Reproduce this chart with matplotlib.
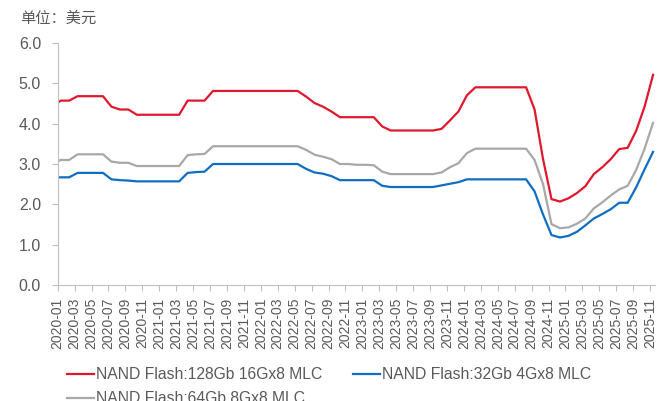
import pandas as pd
import matplotlib.pyplot as plt
import numpy as np

plt.rcParams['font.family'] = ['Liberation Sans', 'Noto Sans CJK SC', 'DejaVu Sans']

# monthly contract prices, 2019-12 .. 2025-11 (first point sits left of the axis)
months = list(pd.date_range('2019-12-01', periods=72, freq='MS').strftime('%Y-%m'))

nand_128 = [4.42,
            4.57, 4.57, 4.68, 4.68, 4.68, 4.68, 4.42, 4.35, 4.35, 4.22, 4.22, 4.22,
            4.22, 4.22, 4.22, 4.57, 4.57, 4.57, 4.81, 4.81, 4.81, 4.81, 4.81, 4.81,
            4.81, 4.81, 4.81, 4.81, 4.81, 4.67, 4.51, 4.42, 4.30, 4.16, 4.16, 4.16,
            4.16, 4.16, 3.93, 3.83, 3.83, 3.83, 3.83, 3.83, 3.83, 3.87, 4.08, 4.30,
            4.70, 4.90, 4.90, 4.90, 4.90, 4.90, 4.90, 4.90, 4.35, 3.12, 2.13, 2.07,
            2.15, 2.28, 2.45, 2.75, 2.92, 3.12, 3.37, 3.40, 3.82, 4.42, 5.21]
nand_32 = [2.67,
           2.67, 2.67, 2.78, 2.78, 2.78, 2.78, 2.62, 2.60, 2.59, 2.57, 2.57, 2.57,
           2.57, 2.57, 2.57, 2.78, 2.80, 2.81, 3.00, 3.00, 3.00, 3.00, 3.00, 3.00,
           3.00, 3.00, 3.00, 3.00, 3.00, 2.88, 2.79, 2.76, 2.70, 2.60, 2.60, 2.60,
           2.60, 2.60, 2.46, 2.43, 2.43, 2.43, 2.43, 2.43, 2.43, 2.47, 2.51, 2.55,
           2.62, 2.62, 2.62, 2.62, 2.62, 2.62, 2.62, 2.62, 2.32, 1.75, 1.24, 1.18,
           1.22, 1.32, 1.48, 1.65, 1.76, 1.88, 2.04, 2.04, 2.42, 2.87, 3.30]
nand_64 = [3.00,
           3.10, 3.10, 3.24, 3.24, 3.24, 3.24, 3.06, 3.03, 3.03, 2.95, 2.95, 2.95,
           2.95, 2.95, 2.95, 3.22, 3.24, 3.25, 3.44, 3.44, 3.44, 3.44, 3.44, 3.44,
           3.44, 3.44, 3.44, 3.44, 3.44, 3.35, 3.23, 3.18, 3.12, 3.00, 3.00, 2.98,
           2.98, 2.97, 2.81, 2.75, 2.75, 2.75, 2.75, 2.75, 2.75, 2.79, 2.92, 3.02,
           3.27, 3.38, 3.38, 3.38, 3.38, 3.38, 3.38, 3.38, 3.10, 2.50, 1.51, 1.41,
           1.43, 1.52, 1.65, 1.90, 2.05, 2.22, 2.37, 2.46, 2.85, 3.38, 4.02]

labels = ['NAND Flash:128Gb 16Gx8 MLC', 'NAND Flash:32Gb 4Gx8 MLC', 'NAND Flash:64Gb 8Gx8 MLC']
colors = ['#E0182D', '#0F6EC2', '#A8A8A8']

# prices are quoted mid-month, so points sit a bit right of each month tick
x = np.arange(len(months)) - 1 + 0.35

fig = plt.figure(figsize=(6.58, 4.01), dpi=100)
ax = fig.add_axes([0.0877, 0.289, 0.908, 0.604])

l1, = ax.plot(x, nand_128, color=colors[0], lw=1.6)
l2, = ax.plot(x, nand_32, color=colors[1], lw=1.6)
l3, = ax.plot(x, nand_64, color=colors[2], lw=1.6)

ax.set_xlim(0, 70.6)
ax.set_ylim(0, 6)
ax.set_yticks(np.arange(0, 6.1, 1.0))
ax.set_yticklabels([f'{v:.1f}' for v in np.arange(0, 6.1, 1.0)])
ticks = np.arange(0, 71, 2)
ax.set_xticks(ticks)
ax.set_xticklabels(months[1::2], rotation=90)

for s in ['top', 'right']:
    ax.spines[s].set_visible(False)
for s in ['left', 'bottom']:
    ax.spines[s].set_color('#BFBFBF')
ax.tick_params(axis='both', colors='#BFBFBF', labelcolor='#595959', length=4)
ax.tick_params(axis='x', labelsize=10, pad=5)
ax.tick_params(axis='y', labelsize=11.5, pad=8)

fig.text(20 / 658, 1 - 18 / 401, '单位：美元', fontsize=11, color='#595959',
         va='center', family=['Noto Sans CJK SC', 'DejaVu Sans'])

fig.legend([l1, l3, l2], [labels[0], labels[2], labels[1]], ncol=2, frameon=False,
           loc='upper left', bbox_to_anchor=(67 / 658, 1 - 367 / 401),
           borderpad=0, borderaxespad=0,
           fontsize=11.3, handlelength=1.75, handletextpad=0.1, columnspacing=1.95,
           labelspacing=0.6, labelcolor='#595959')

fig.savefig('out.png', dpi=100)
